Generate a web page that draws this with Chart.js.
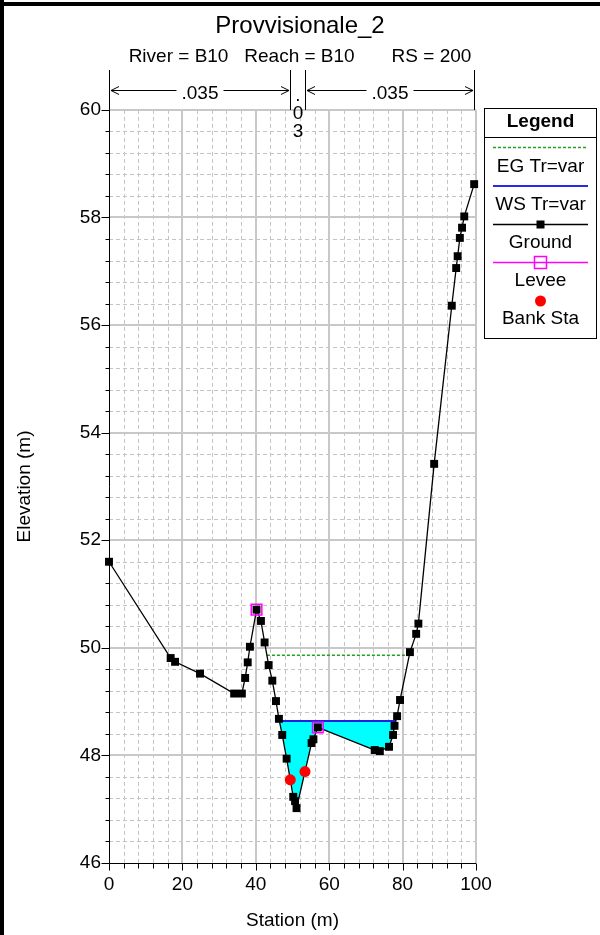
<!DOCTYPE html>
<html>
<head>
<meta charset="utf-8">
<title>Provvisionale_2</title>
<script src="https://cdn.jsdelivr.net/npm/chart.js@4.4.1/dist/chart.umd.min.js"></script>
<style>
  html, body { margin: 0; padding: 0; background: #ffffff; }
  #wrap { width: 600px; height: 935px; }
</style>
</head>
<body>
<div id="wrap"><canvas id="xs" width="600" height="935"></canvas></div>
<script>
// Cross-section geometry (station, elevation) in metres
const stations = [0, 16.8, 18.0, 24.8, 34.1, 36.2, 37.1, 37.8, 38.4, 40.2, 41.4, 42.4, 43.5, 44.5,
  45.5, 46.3, 47.2, 48.4, 50.2, 50.7, 51.1, 55.2, 55.7, 56.9, 72.4, 73.8, 76.3, 77.4, 77.8,
  78.5, 79.3, 82.0, 83.7, 84.3, 88.6, 93.4, 94.6, 95.0, 95.6, 96.2, 96.8, 99.5];
const elevations = [51.60, 49.81, 49.74, 49.52, 49.15, 49.15, 49.44, 49.73, 50.02, 50.71, 50.50, 50.10, 49.68, 49.39,
  49.01, 48.68, 48.38, 47.94, 47.23, 47.15, 47.02, 48.23, 48.30, 48.52, 48.10, 48.08, 48.16, 48.38, 48.55,
  48.73, 49.03, 49.92, 50.26, 50.45, 53.42, 56.36, 57.06, 57.28, 57.62, 57.81, 58.02, 58.62];

const leveeStations = [40.2, 56.9];
const bankStations = [49.4, 53.4];
const wsElevation = 48.64;   // WS Tr=var
const egElevation = 49.86;   // EG Tr=var
const nValues = ['.035', '.03', '.035'];

const xTicks = [0, 20, 40, 60, 80, 100];
const yTicks = [46, 48, 50, 52, 54, 56, 58, 60];

const FONT = "'Liberation Sans', Arial, Helvetica, sans-serif";

// ground elevation at any station (linear between surveyed points)
function groundAt(s) {
  for (let i = 0; i < stations.length - 1; i++) {
    if (s >= stations[i] && s <= stations[i + 1]) {
      const t = (s - stations[i]) / (stations[i + 1] - stations[i]);
      return elevations[i] + t * (elevations[i + 1] - elevations[i]);
    }
  }
  return elevations[elevations.length - 1];
}

// extent of the profile lying below a given level around the thalweg
function reachBelow(level) {
  const lo = elevations.indexOf(Math.min(...elevations));
  let i = lo, j = lo;
  while (i > 0 && elevations[i - 1] < level) i--;
  while (j < elevations.length - 1 && elevations[j + 1] < level) j++;
  const cross = (a, b) => stations[a] + (level - elevations[a]) * (stations[b] - stations[a]) / (elevations[b] - elevations[a]);
  return { i, j, left: cross(i - 1, i), right: cross(j, j + 1) };
}

const groundPts = stations.map((s, k) => ({ x: s, y: elevations[k] }));
const leveePts = leveeStations.map(s => ({ x: s, y: groundAt(s) }));
const bankPts = bankStations.map(s => ({ x: s, y: groundAt(s) }));

const wet = reachBelow(wsElevation);
const wetPts = [{ x: wet.left, y: wsElevation }]
  .concat(groundPts.slice(wet.i, wet.j + 1))
  .concat([{ x: wet.right, y: wsElevation }]);
const wsPts = [{ x: wet.left, y: wsElevation }, { x: wet.right, y: wsElevation }];
const eg = reachBelow(egElevation);
const egPts = [{ x: eg.left, y: egElevation }, { x: eg.right, y: egElevation }];

// grid, axes and tick marks behind the data
const sectionGrid = {
  id: 'sectionGrid',
  beforeDatasetsDraw(chart) {
    const { ctx, chartArea: a, scales: { x, y } } = chart;
    ctx.save();
    // minor dashed lines
    ctx.strokeStyle = '#c4c4c4';
    ctx.lineWidth = 1;
    ctx.setLineDash([4, 3]);
    for (let k = 1; k < 25; k++) {
      if (k % 5 === 0) continue;
      const px = Math.round(x.getPixelForValue(k * 4)) + 0.5;
      ctx.beginPath(); ctx.moveTo(px, a.top); ctx.lineTo(px, a.bottom); ctx.stroke();
    }
    for (let k = 1; k < 35; k++) {
      if (k % 5 === 0) continue;
      const py = Math.round(y.getPixelForValue(46 + k * 0.4)) + 0.5;
      ctx.beginPath(); ctx.moveTo(a.left, py); ctx.lineTo(a.right, py); ctx.stroke();
    }
    // major solid lines
    ctx.setLineDash([]);
    ctx.strokeStyle = '#c8c8c8';
    ctx.lineWidth = 2;
    xTicks.slice(1).forEach(v => {
      const px = Math.round(x.getPixelForValue(v));
      ctx.beginPath(); ctx.moveTo(px, a.top); ctx.lineTo(px, a.bottom); ctx.stroke();
    });
    yTicks.slice(1).forEach(v => {
      const py = Math.round(y.getPixelForValue(v));
      ctx.beginPath(); ctx.moveTo(a.left, py); ctx.lineTo(a.right, py); ctx.stroke();
    });
    // axis lines and tick marks
    ctx.strokeStyle = '#000';
    ctx.lineWidth = 1;
    const ax = Math.round(a.left) + 0.5, ay = Math.round(a.bottom) + 0.5;
    ctx.beginPath(); ctx.moveTo(ax, a.top); ctx.lineTo(ax, ay); ctx.lineTo(a.right, ay); ctx.stroke();
    for (let k = 0; k <= 35; k++) {
      const py = Math.round(y.getPixelForValue(46 + k * 0.4)) + 0.5;
      const len = k % 5 === 0 ? 8 : 4;
      ctx.beginPath(); ctx.moveTo(ax - len, py); ctx.lineTo(ax, py); ctx.stroke();
    }
    for (let k = 0; k <= 25; k++) {
      const px = Math.round(x.getPixelForValue(k * 4)) + 0.5;
      const len = k % 5 === 0 ? 7 : 5;
      ctx.beginPath(); ctx.moveTo(px, ay); ctx.lineTo(px, ay + len); ctx.stroke();
    }
    ctx.restore();
  }
};

// Manning's n bands, legend box and outer frame
const sectionDecor = {
  id: 'sectionDecor',
  afterDraw(chart) {
    const { ctx, chartArea: a, scales: { x } } = chart;
    ctx.save();
    ctx.fillStyle = '#000';
    ctx.strokeStyle = '#000';
    ctx.lineWidth = 1;
    ctx.font = '19px ' + FONT;
    ctx.textAlign = 'center';
    ctx.textBaseline = 'alphabetic';

    const bounds = [stations[0]].concat(bankStations, [stations[stations.length - 1]]);
    const bpx = bounds.map(v => Math.round(x.getPixelForValue(v)) + 0.5);
    bpx.forEach(px => {
      ctx.beginPath(); ctx.moveTo(px, 70); ctx.lineTo(px, a.top); ctx.stroke();
    });
    const ay = 90.5;
    for (let r = 0; r < nValues.length; r++) {
      const l = bpx[r], rr = bpx[r + 1], mid = (l + rr) / 2;
      const label = nValues[r];
      if (rr - l > 60) {
        const w = ctx.measureText(label).width;
        ctx.fillText(label, mid, 98.5);
        const t0 = l + 1.5, t1 = rr - 1.5;
        ctx.beginPath();
        ctx.moveTo(t0, ay); ctx.lineTo(mid - w / 2 - 5, ay);
        ctx.moveTo(mid + w / 2 + 5, ay); ctx.lineTo(t1, ay);
        ctx.moveTo(t0 + 8, ay - 4); ctx.lineTo(t0, ay); ctx.lineTo(t0 + 8, ay + 4);
        ctx.moveTo(t1 - 8, ay - 4); ctx.lineTo(t1, ay); ctx.lineTo(t1 - 8, ay + 4);
        ctx.stroke();
      } else {
        const chars = label.split('');
        chars.forEach((c, k) => ctx.fillText(c, mid, 101 + k * 18));
      }
    }

    // legend
    const L = 484.5, R = 596.5, T = 108.5, B = 338.5, cx = 540.5;
    ctx.strokeRect(L, T, R - L, B - T);
    ctx.beginPath(); ctx.moveTo(L, 137.5); ctx.lineTo(R, 137.5); ctx.stroke();
    ctx.font = 'bold 19px ' + FONT;
    ctx.fillText('Legend', cx, 126.5);
    ctx.font = '19px ' + FONT;
    const x0 = 493, x1 = 588;
    // EG
    ctx.strokeStyle = '#22a022'; ctx.lineWidth = 1.5; ctx.setLineDash([3, 2]);
    ctx.beginPath(); ctx.moveTo(x0, 147.5); ctx.lineTo(x1, 147.5); ctx.stroke();
    ctx.setLineDash([]);
    ctx.fillText('EG Tr=var', cx, 171.5);
    // WS
    ctx.strokeStyle = '#2a2ae6'; ctx.lineWidth = 2;
    ctx.beginPath(); ctx.moveTo(x0, 186); ctx.lineTo(x1, 186); ctx.stroke();
    ctx.fillText('WS Tr=var', cx, 209.5);
    // Ground
    ctx.strokeStyle = '#000'; ctx.lineWidth = 1.3;
    ctx.beginPath(); ctx.moveTo(x0, 224.5); ctx.lineTo(x1, 224.5); ctx.stroke();
    ctx.fillRect(cx - 4, 220.5, 8, 8);
    ctx.fillText('Ground', cx, 247.5);
    // Levee
    ctx.strokeStyle = '#ff00ff'; ctx.lineWidth = 1.5;
    ctx.beginPath(); ctx.moveTo(x0, 262.5); ctx.lineTo(x1, 262.5); ctx.stroke();
    ctx.strokeRect(cx - 6, 256.5, 12, 12);
    ctx.fillText('Levee', cx, 285.5);
    // Bank Sta
    ctx.fillStyle = '#ff0000';
    ctx.beginPath(); ctx.arc(cx, 301, 5.5, 0, Math.PI * 2); ctx.fill();
    ctx.fillStyle = '#000';
    ctx.fillText('Bank Sta', cx, 324);

    // frame
    ctx.fillRect(0, 2, 600, 4);
    ctx.fillRect(0, 0, 4, 935);
    ctx.restore();
  }
};

const tickFont = { family: FONT, size: 19 };

new Chart(document.getElementById('xs'), {
  type: 'scatter',
  data: {
    datasets: [
      {
        label: 'Bank Sta', data: bankPts, showLine: false,
        pointStyle: 'circle', pointRadius: 5.5, pointBackgroundColor: '#ff0000', pointBorderWidth: 0
      },
      {
        label: 'Levee', data: leveePts, showLine: false,
        pointStyle: 'rect', pointRadius: 7.5, pointBackgroundColor: 'rgba(0,0,0,0)',
        pointBorderColor: '#ff00ff', pointBorderWidth: 1.5
      },
      {
        label: 'Ground', data: groundPts, showLine: true, borderColor: '#000', borderWidth: 1.3,
        pointStyle: 'rect', pointRadius: 5.6, pointBackgroundColor: '#000', pointBorderWidth: 0, tension: 0,
        clip: false
      },
      {
        label: 'EG Tr=var', data: egPts, showLine: true, borderColor: '#22a022', borderWidth: 1.5,
        borderDash: [3, 2], pointRadius: 0
      },
      {
        label: 'WS Tr=var', data: wsPts, showLine: true, borderColor: '#2020e0', borderWidth: 2,
        pointRadius: 0
      },
      {
        label: 'water', data: wetPts, showLine: true, borderWidth: 0, borderColor: 'rgba(0,0,0,0)',
        backgroundColor: '#00ffff', fill: { value: wsElevation }, pointRadius: 0, tension: 0
      }
    ]
  },
  options: {
    responsive: false,
    animation: false,
    events: [],
    layout: { padding: { left: 0, right: 0, top: 0, bottom: 0 } },
    plugins: {
      legend: { display: false },
      tooltip: { enabled: false },
      title: {
        display: true, text: 'Provvisionale_2', color: '#000',
        font: { family: FONT, size: 24, weight: 'normal' },
        padding: { top: 12, bottom: 0 }
      },
      subtitle: {
        display: true, text: 'River = B10   Reach = B10       RS = 200', color: '#000',
        font: { family: FONT, size: 19 },
        padding: { top: 4.7, bottom: 41.6 }
      }
    },
    scales: {
      x: {
        type: 'linear', min: 0, max: 100,
        afterBuildTicks: s => { s.ticks = xTicks.map(v => ({ value: v })); },
        afterFit: s => { s.height = 72; },
        ticks: { font: tickFont, color: '#000', padding: 10, maxRotation: 0, autoSkip: false },
        grid: { display: false, drawTicks: false },
        border: { display: false },
        title: { display: true, text: 'Station (m)', color: '#000', font: tickFont, padding: { top: 0, bottom: 2.6 } }
      },
      y: {
        type: 'linear', min: 46, max: 60,
        afterBuildTicks: s => { s.ticks = yTicks.map(v => ({ value: v })); },
        afterFit: s => { s.width = 109; },
        ticks: { font: tickFont, color: '#000', padding: 8, autoSkip: false },
        grid: { display: false, drawTicks: false },
        border: { display: false },
        title: { display: true, text: 'Elevation (m)', color: '#000', font: tickFont, padding: { top: 13.6, bottom: 0 } }
      },
      // empty right-hand band that holds the legend column
      side: {
        type: 'linear', position: 'right', min: 0, max: 1,
        afterFit: s => { s.width = 124; },
        ticks: { display: false },
        grid: { display: false, drawTicks: false },
        border: { display: false }
      }
    }
  },
  plugins: [sectionGrid, sectionDecor]
});
</script>
</body>
</html>
